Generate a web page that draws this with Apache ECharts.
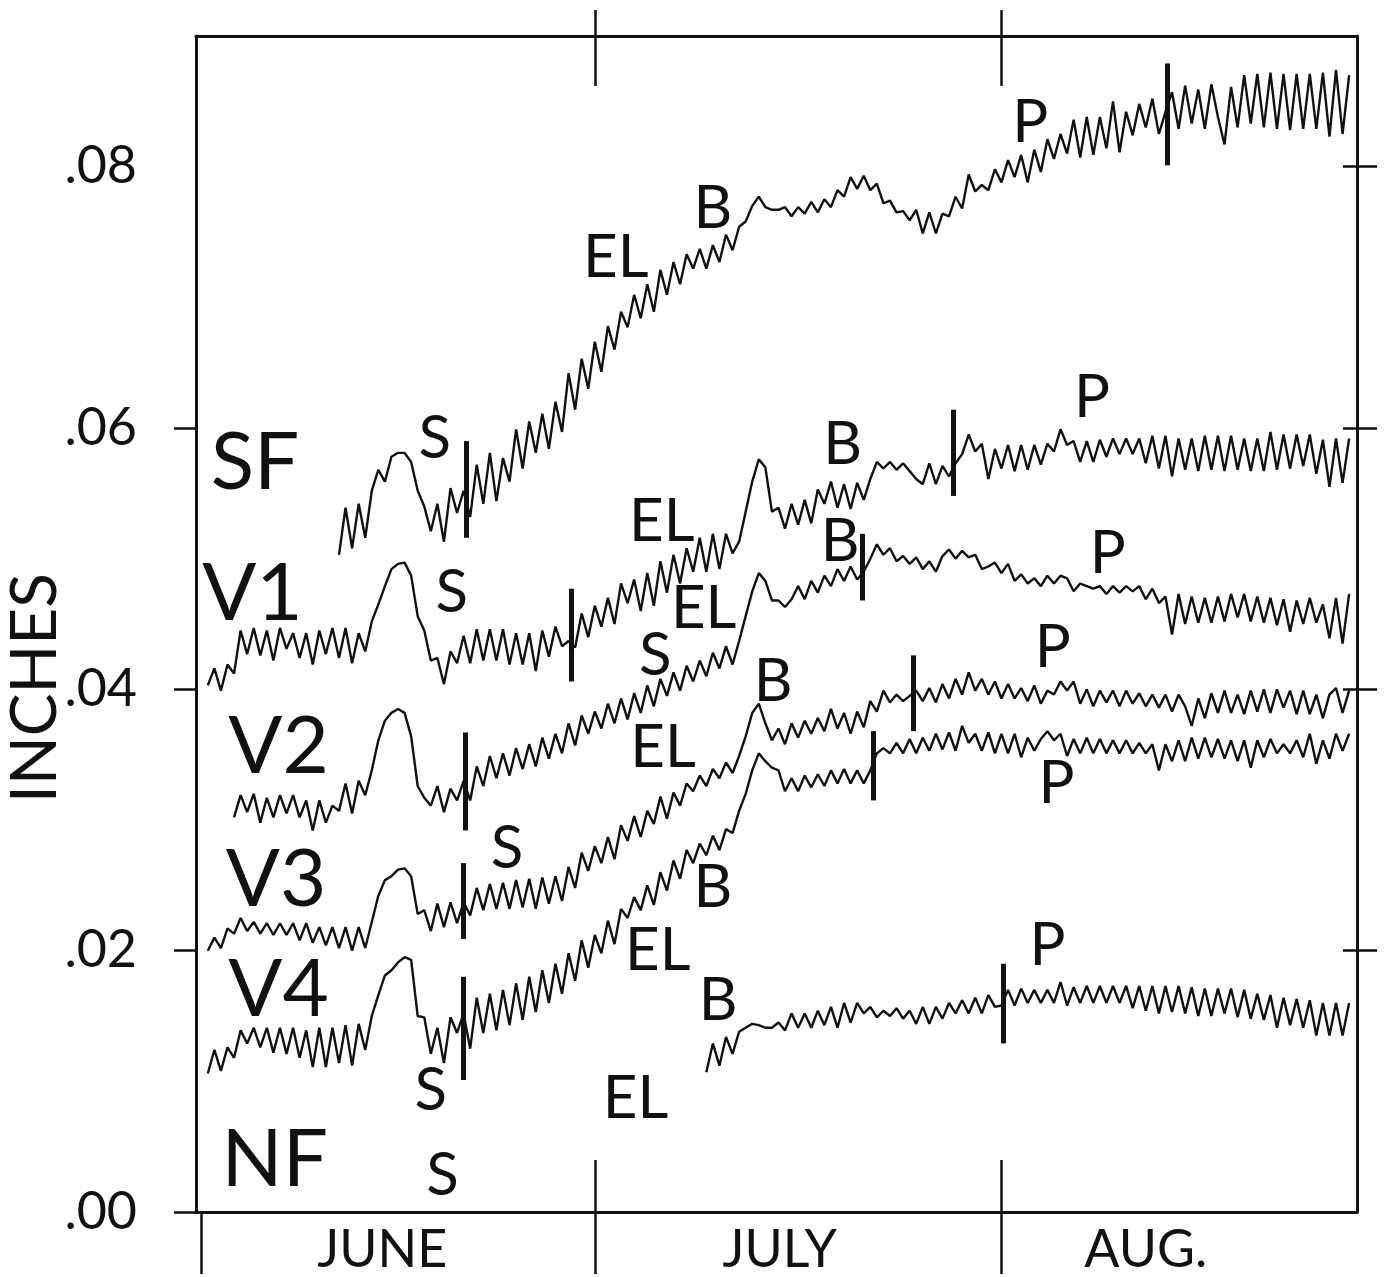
<!DOCTYPE html>
<html><head><meta charset="utf-8">
<script src="https://cdn.jsdelivr.net/npm/echarts@6/dist/echarts.min.js"></script>
<style>html,body{margin:0;padding:0;background:#fff}#c{width:1384px;height:1277px}</style>
</head><body><div id="c"></div>
<script>
// ---------------- axes ----------------
const monthNames = ['JUNE', 'JULY', 'AUG.'];
const monthStartDays = [0, 30, 61];          // day 0 = June 1
const monthLabelDays = [13.8, 44.1, 72];
const yLabelValues = [0, 0.02, 0.04, 0.06, 0.08];
const yLeftTickValues = [0, 0.02, 0.04, 0.06];
const yRightTickValues = [0.02, 0.04, 0.06, 0.08];

// ---------------- series: first day, then twice-daily readings (thousandths of an inch) ----------------
const sfStart = 10.5;
const sfMils = [50.3,53.9,50.8,54.2,51.6,55.2,56.8,55.9,57.8,58.1,
 58.1,57.4,55.2,54.0,52.1,54.2,51.3,55.4,53.5,55.2,
 53.2,57.2,54.2,58.1,54.4,57.7,55.9,59.9,56.9,60.5,
 58.1,61.1,58.4,62.0,59.7,64.2,61.4,65.3,63.0,66.6,
 64.3,67.8,66.0,68.9,67.7,70.2,68.4,71.0,68.9,72.1,
 70.2,72.7,71.0,73.3,72.2,73.7,72.2,74.0,72.7,74.8,
 73.6,75.4,75.8,77.0,77.7,76.9,76.7,76.7,76.9,76.2,
 76.9,76.4,77.3,76.5,77.5,76.9,78.2,77.7,79.2,78.3,
 79.3,78.2,78.7,77.2,77.4,76.5,76.6,75.9,76.7,74.9,
 76.5,74.9,76.4,76.2,77.7,76.8,79.4,78.1,78.6,78.2,
 79.8,78.8,80.5,79.2,80.9,78.8,81.3,79.6,82.1,80.6,
 82.5,81.0,83.6,80.7,83.8,80.9,83.8,81.4,85.0,81.1,
 84.2,82.4,84.8,83.0,85.2,82.5,84.2,85.7,82.9,86.2,
 83.3,85.9,82.9,86.3,83.8,81.7,86.1,83.0,87.0,83.3,
 87.1,83.0,87.2,82.9,87.1,82.8,87.1,82.9,87.1,82.9,
 87.2,82.3,87.4,82.5,87.0];

const v1Start = 0.5;
const v1Mils = [40.3,41.6,39.9,41.9,41.2,44.5,42.7,44.7,42.6,44.5,
 42.2,44.7,43.1,44.3,42.4,44.3,41.9,44.5,42.7,44.7,
 42.4,44.7,42.0,44.3,42.9,45.2,46.5,47.9,49.2,49.6,
 49.7,48.7,45.6,44.5,42.2,42.4,40.4,42.9,42.0,44.1,
 42.0,44.6,42.2,44.6,42.2,44.6,41.9,44.3,41.9,44.3,
 41.4,44.5,42.5,44.8,43.3,43.7,43.2,45.8,44.0,46.4,
 44.8,47.0,45.0,48.1,46.6,48.4,46.0,48.9,46.4,49.8,
 47.4,50.3,48.1,50.8,49.0,51.6,49.0,51.9,49.2,51.9,
 50.4,51.3,53.6,55.9,57.6,57.0,53.6,53.9,52.3,54.2,
 52.6,54.5,52.7,55.3,54.2,55.9,53.9,55.7,53.8,55.8,
 54.5,56.1,57.4,56.9,57.4,56.8,57.3,56.7,56.1,55.7,
 57.3,55.7,57.1,56.3,57.3,58.0,59.5,58.2,58.8,56.1,
 58.4,56.9,58.7,56.7,58.7,56.8,58.7,57.2,58.8,58.2,
 59.9,58.7,59.0,57.4,59.0,57.4,59.1,57.8,59.2,58.0,
 59.2,58.0,59.2,57.3,59.4,56.9,59.4,56.3,59.2,56.8,
 59.2,56.7,59.4,56.8,59.4,56.7,59.4,56.8,59.2,56.7,
 59.2,56.7,59.7,56.8,59.5,56.9,59.5,57.1,59.5,56.5,
 59.1,55.5,59.2,55.8,59.2];

const v2Start = 2.5;
const v2Mils = [30.2,31.9,30.6,32.0,29.8,31.7,30.2,31.9,30.5,31.9,
 30.2,31.5,29.2,31.5,29.8,31.1,30.7,32.8,30.5,33.0,
 31.9,33.8,36.1,37.6,38.2,38.5,38.2,36.4,32.6,31.7,
 31.1,32.6,30.6,32.4,31.5,33.0,31.5,34.1,32.6,34.9,
 33.2,35.1,33.4,35.5,33.9,35.8,34.1,36.3,34.7,36.6,
 35.1,37.4,35.7,38.0,36.6,38.3,37.0,38.9,37.4,39.3,
 37.7,39.7,38.2,40.3,38.7,40.8,39.5,41.3,39.9,41.8,
 40.6,42.2,41.0,42.8,41.6,43.3,41.9,43.7,45.6,47.5,
 48.9,48.3,46.8,46.8,46.3,46.9,47.9,46.9,48.3,47.4,
 48.7,47.9,49.2,48.3,49.4,48.4,49.0,50.0,51.1,50.3,
 50.8,49.8,50.2,49.6,50.1,49.2,49.8,49.0,50.2,50.7,
 50.0,50.6,50.1,50.3,49.2,49.4,49.7,48.9,49.6,48.3,
 48.8,48.1,48.5,47.9,48.7,48.1,48.7,48.5,47.5,48.1,
 47.9,47.7,47.9,47.3,47.9,47.4,47.9,47.5,47.9,46.9,
 47.7,46.6,47.1,44.2,47.3,45.0,47.1,45.1,47.0,45.1,
 47.1,45.2,47.3,45.5,47.3,45.2,47.1,45.1,47.0,44.9,
 46.9,44.4,46.8,45.0,47.0,45.1,46.5,43.9,47.0,43.5,
 47.3];

const v3Start = 0.5;
const v3Mils = [20.0,21.0,20.2,21.7,21.3,22.5,21.5,22.2,21.3,22.1,
 21.2,22.1,21.2,22.1,20.8,22.1,20.6,21.8,20.4,21.8,
 20.2,21.8,20.0,21.8,20.2,22.2,24.2,25.4,25.7,26.2,
 26.3,25.7,22.8,23.1,21.5,23.6,21.8,23.7,22.1,23.7,
 22.7,24.8,23.1,25.1,23.2,25.2,23.2,25.4,23.3,25.5,
 23.2,25.6,23.6,25.7,23.8,26.4,24.8,27.5,26.1,28.0,
 26.7,28.7,27.0,29.6,28.4,30.3,28.7,30.7,29.7,31.8,
 30.1,32.1,31.1,32.8,32.2,33.4,32.6,33.9,33.2,34.4,
 33.6,34.9,36.4,38.2,38.9,37.4,36.1,37.0,35.8,37.4,
 36.3,37.6,36.6,37.8,36.8,38.5,37.0,38.2,36.6,38.3,
 37.1,39.1,38.3,39.9,39.0,39.6,39.1,39.5,39.9,39.1,
 40.1,39.0,40.4,39.3,40.8,39.6,41.3,39.9,40.8,39.6,
 40.6,39.3,40.4,39.3,40.1,39.1,40.3,38.9,39.9,39.6,
 40.6,39.9,40.6,38.9,40.0,38.7,39.9,39.0,39.9,38.7,
 39.9,38.9,39.7,38.7,39.6,38.6,39.6,38.3,39.6,38.7,
 37.2,39.3,37.8,39.7,38.2,39.9,38.2,39.6,38.1,39.9,
 38.3,40.0,38.2,40.0,38.6,39.9,38.1,39.9,38.1,39.6,
 37.8,39.6,40.1,38.2,39.9];

const v4Start = 0.5;
const v4Mils = [10.6,12.4,10.8,12.6,11.8,13.9,12.9,14.1,12.6,14.1,
 12.2,14.1,12.1,14.1,11.8,13.9,11.1,14.1,11.1,14.1,
 11.4,14.3,11.2,14.4,12.4,15.0,16.6,18.1,18.5,19.1,
 19.5,19.3,15.0,14.9,12.1,14.1,11.4,14.9,13.7,15.2,
 12.5,16.4,13.7,16.7,13.9,17.0,14.3,17.5,14.7,18.0,
 15.3,18.5,16.0,19.0,16.7,19.8,17.7,20.8,18.7,21.2,
 19.8,22.3,20.5,23.2,22.5,24.1,23.1,25.0,23.5,26.0,
 24.6,26.9,25.5,27.7,26.7,28.2,27.3,28.8,27.7,29.3,
 29.0,30.7,32.0,33.8,35.1,34.5,34.0,33.8,32.2,33.2,
 32.2,33.4,32.5,33.5,32.6,33.8,32.8,33.9,32.8,33.8,
 32.8,33.8,35.1,35.5,35.1,35.9,35.1,36.2,35.1,36.3,
 35.3,36.6,35.4,36.7,35.3,37.2,35.9,36.6,35.3,36.7,
 35.1,36.6,35.1,36.6,34.8,36.3,35.3,36.2,36.8,36.1,
 36.6,34.9,36.2,35.1,36.3,35.1,36.2,35.1,36.1,35.1,
 36.1,35.1,35.9,35.1,35.8,33.8,35.8,34.5,36.1,34.5,
 36.3,34.7,36.3,34.8,36.2,34.7,36.1,34.5,36.1,34.0,
 36.1,34.8,36.2,35.1,35.8,35.1,36.1,34.8,36.6,34.3,
 36.1,34.7,36.6,35.3,36.6];

const nfStart = 38.5;
const nfMils = [10.7,12.9,11.2,13.4,12.1,13.8,14.1,14.4,14.3,14.1,
 14.1,14.5,13.9,15.2,14.1,15.2,14.1,15.4,14.3,15.7,
 14.1,16.0,14.5,16.0,15.2,15.7,14.9,15.4,15.0,15.6,
 14.8,15.4,14.4,15.7,14.4,15.7,14.8,16.0,15.2,16.2,
 15.2,16.4,15.2,16.6,15.7,15.8,17.0,15.8,17.1,16.0,
 17.0,16.0,17.0,16.0,17.6,15.8,17.2,16.0,17.3,16.0,
 17.3,16.0,17.3,16.0,17.3,15.6,17.3,15.4,17.3,15.2,
 17.3,15.3,17.3,15.2,17.2,15.0,17.1,15.0,17.1,15.2,
 17.1,14.9,17.0,14.8,16.7,14.7,16.6,14.1,16.4,14.3,
 16.3,14.1,16.2,13.5,16.0,13.5,16.0,13.5,16.0];

// heavy vertical markers: [day, low mils, high mils]
const sfBars = [[20.2, 51.6, 59.0], [73.6, 80.1, 87.9]];
const v1Bars = [[28.2, 40.6, 47.7], [57.3, 54.8, 61.4]];
const v2Bars = [[20.1, 29.2, 36.7], [50.4, 46.8, 51.9]];
const v3Bars = [[20.0, 20.9, 26.7], [54.3, 36.8, 42.6]];
const v4Bars = [[20.0, 10.1, 18.0], [51.2, 31.5, 36.8]];
const nfBars = [[61.1, 12.9, 19.0]];

// text annotations: [text, day, mils]
const seriesNameLabels = [['SF', 4.1, 57.3], ['V1', 3.9, 47.3], ['V2', 5.9, 35.6],
  ['V3', 5.7, 25.4], ['V4', 5.9, 17.0], ['NF', 5.6, 4.0]];
const eventLabels = [
  ['S', 17.8, 59.2], ['S', 19.1, 47.4], ['S', 34.6, 42.6], ['S', 23.3, 27.8], ['S', 17.5, 9.3], ['S', 18.4, 2.8],
  ['EL', 31.6, 73.0], ['EL', 35.1, 52.8], ['EL', 38.3, 46.2], ['EL', 35.2, 35.5], ['EL', 34.8, 20.0], ['EL', 33.1, 8.7],
  ['B', 39.0, 76.8], ['B', 48.9, 58.7], ['B', 48.7, 51.3], ['B', 43.6, 40.6], ['B', 39.0, 24.8], ['B', 39.4, 16.2],
  ['P', 63.2, 83.4], ['P', 67.9, 62.3], ['P', 69.1, 50.4], ['P', 64.9, 43.2], ['P', 65.2, 32.8], ['P', 64.5, 20.4]
];

// ---------------- chart ----------------
const INK = '#111111';
const FONT = 'Lato';
const chart = echarts.init(document.getElementById('c'), null, {renderer: 'canvas'});

function lineSeries(name, start, mils, bars) {
  return {
    name, type: 'line', xAxisIndex: 0, yAxisIndex: 0,
    symbol: 'none', showSymbol: false, silent: true, animation: false,
    data: mils.map((m, i) => [start + i * 0.5, m / 1000]),
    lineStyle: {color: INK, width: 2.4},
    markLine: {
      symbol: ['none', 'none'], silent: true, animation: false, label: {show: false},
      lineStyle: {type: 'solid', color: INK, width: 5},
      data: bars.map(b => [{coord: [b[0], b[1] / 1000]}, {coord: [b[0], b[2] / 1000]}])
    }
  };
}
function textSeries(items, size) {
  return {
    type: 'custom', xAxisIndex: 0, yAxisIndex: 0, silent: true, animation: false, clip: false,
    data: items.map(t => [t[1], t[2] / 1000]),
    renderItem: (params, api) => {
      const p = api.coord([api.value(0), api.value(1)]);
      return {
        type: 'text', x: p[0], y: p[1],
        style: {text: items[params.dataIndex][0], fill: INK, font: size + 'px ' + FONT,
          align: 'center', verticalAlign: 'middle'}
      };
    }
  };
}

const xBase = {type: 'value', min: -0.4, max: 88.1, splitLine: {show: false}};
const yBase = {type: 'value', min: 0, max: 0.09, splitLine: {show: false}};
const axisLn = {show: true, onZero: false, lineStyle: {color: INK, width: 3}};
const noLn = {show: false, onZero: false};
const tickLn = {color: INK, width: 2.5};

chart.setOption({
  backgroundColor: '#ffffff',
  animation: false,
  grid: {left: 196, right: 27, top: 36, bottom: 65, containLabel: false},
  xAxis: [
    Object.assign({}, xBase, {position: 'bottom', axisLine: axisLn,
      axisTick: {show: true, customValues: monthStartDays, length: 62, lineStyle: tickLn},
      axisLabel: {show: true, customValues: monthLabelDays, margin: 12,
        formatter: v => monthNames[monthLabelDays.findIndex(d => Math.abs(d - v) < 0.01)] || '',
        fontFamily: FONT, fontSize: 52, color: INK}}),
    Object.assign({}, xBase, {position: 'bottom', axisLine: noLn,
      axisTick: {show: true, inside: true, customValues: monthStartDays.slice(1), length: 52, lineStyle: tickLn},
      axisLabel: {show: false}}),
    Object.assign({}, xBase, {position: 'top', axisLine: axisLn,
      axisTick: {show: true, customValues: monthStartDays.slice(1), length: 26, lineStyle: tickLn},
      axisLabel: {show: false}}),
    Object.assign({}, xBase, {position: 'top', axisLine: noLn,
      axisTick: {show: true, inside: true, customValues: monthStartDays.slice(1), length: 50, lineStyle: tickLn},
      axisLabel: {show: false}})
  ],
  yAxis: [
    Object.assign({}, yBase, {position: 'left', axisLine: axisLn,
      axisTick: {show: true, customValues: yLeftTickValues, length: 22, lineStyle: tickLn},
      axisLabel: {show: true, customValues: yLabelValues, margin: 59,
        formatter: v => '.' + String(Math.round(v * 100)).padStart(2, '0'),
        fontFamily: FONT, fontSize: 52, color: INK}}),
    Object.assign({}, yBase, {position: 'right', axisLine: axisLn,
      axisTick: {show: true, customValues: yRightTickValues, length: 20, lineStyle: tickLn},
      axisLabel: {show: false}}),
    Object.assign({}, yBase, {position: 'right', axisLine: noLn,
      axisTick: {show: true, inside: true, customValues: yRightTickValues, length: 14, lineStyle: tickLn},
      axisLabel: {show: false}})
  ],
  graphic: [{
    type: 'text', x: 35, y: 688, rotation: Math.PI / 2, silent: true,
    style: {text: 'INCHES', fill: INK, font: '64px ' + FONT, align: 'center', verticalAlign: 'middle'}
  }],
  series: [
    lineSeries('SF', sfStart, sfMils, sfBars),
    lineSeries('V1', v1Start, v1Mils, v1Bars),
    lineSeries('V2', v2Start, v2Mils, v2Bars),
    lineSeries('V3', v3Start, v3Mils, v3Bars),
    lineSeries('V4', v4Start, v4Mils, v4Bars),
    lineSeries('NF', nfStart, nfMils, nfBars),
    textSeries(seriesNameLabels, 80),
    textSeries(eventLabels, 60)
  ]
});
</script></body></html>
